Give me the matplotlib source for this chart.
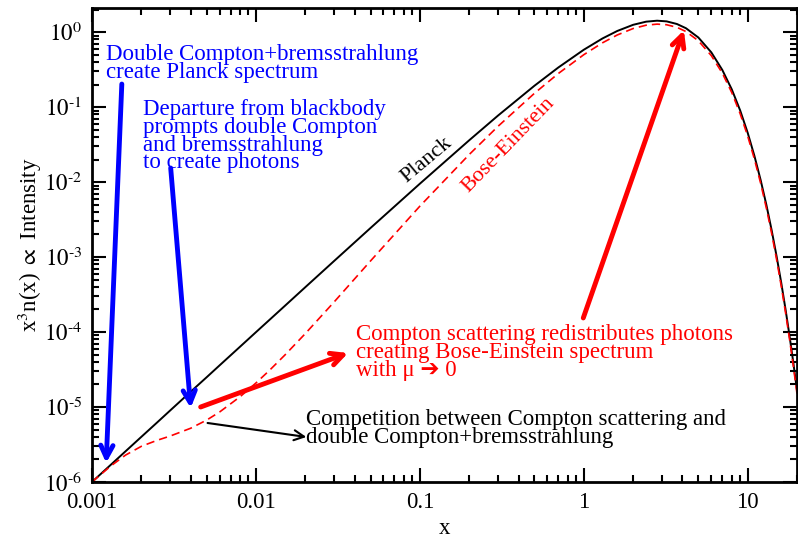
"""
Planck vs Bose-Einstein spectrum (log-log)
"""
import math
import matplotlib
matplotlib.use('Agg')
import matplotlib.pyplot as plt
from matplotlib.ticker import LogLocator, FuncFormatter, NullFormatter

plt.rcParams['font.family'] = ['Liberation Serif', 'DejaVu Serif']
plt.rcParams['mathtext.fontset'] = 'stix'

# x values (frequency x = h nu / kT)
x_vals = [0.001, 0.0013, 0.0016, 0.002, 0.0025, 0.003, 0.004, 0.005, 0.006, 0.008,
          0.01, 0.012, 0.015, 0.02, 0.03, 0.05, 0.1, 0.2, 0.3, 0.5, 0.7, 1.0,
          1.3, 1.6, 2.0, 2.4, 2.8, 3.2, 3.7, 4.2, 5, 6, 7, 8, 9, 10,
          11, 12, 13, 14, 15, 16, 17, 18, 19, 20]

# Planck curve
planck = [1.0e-6, 1.69e-6, 2.56e-6, 4.0e-6, 6.24e-6, 9.0e-6, 1.6e-5, 2.49e-5, 3.59e-5, 6.37e-5,
          9.95e-5, 1.43e-4, 2.23e-4, 3.96e-4, 8.87e-4, 2.44e-3, 9.51e-3, 0.0361, 0.0772, 0.1927,
          0.338, 0.582, 0.823, 1.036, 1.252, 1.379, 1.421, 1.392, 1.284, 1.128,
          0.848, 0.537, 0.313, 0.172, 0.090, 0.0454,
          0.0222, 0.0106, 0.00497, 0.00228, 0.00103, 4.61e-4, 2.03e-4, 8.88e-5, 3.84e-5, 1.65e-5]

# Bose-Einstein curve (dashed)
bose = [1.0e-6, 1.63e-6, 2.28e-6, 2.99e-6, 3.60e-6, 4.10e-6, 5.21e-6, 6.68e-6, 8.57e-6, 1.37e-5,
        2.09e-5, 3.03e-5, 4.92e-5, 9.52e-5, 2.52e-4, 8.87e-4, 4.77e-3, 0.0233, 0.0555, 0.1527,
        0.281, 0.500, 0.720, 0.916, 1.117, 1.237, 1.279, 1.255, 1.159, 1.019,
        0.767, 0.486, 0.284, 0.156, 0.0814, 0.0411,
        0.0201, 0.00961, 0.00449, 0.00207, 9.34e-4, 4.17e-4, 1.84e-4, 8.03e-5, 3.48e-5, 1.49e-5]

x_ticks = [0.001, 0.01, 0.1, 1, 10]
x_tick_labels = ['0.001', '0.01', '0.1', '1', '10']


def ylab(v, pos):
    e = round(math.log10(v))
    if e < 0:
        return r'$10^{\text{-}%d}$' % (-e)
    return r'$10^{%d}$' % e


fig = plt.figure(figsize=(7.98, 5.39), dpi=100)
ax = fig.add_axes([0.1153, 0.1058, 0.8835, 0.8794])

ax.plot(x_vals, planck, color='black', lw=1.4)
ax.plot(x_vals, bose, color='red', lw=1.2, ls=(0, (5, 3)))

ax.set_xscale('log')
ax.set_yscale('log')
ax.set_xlim(0.001, 20)
ax.set_ylim(1e-6, 2.1)

# ticks
ax.set_xticks(x_ticks)
ax.set_xticklabels(x_tick_labels)
ax.xaxis.set_minor_locator(LogLocator(base=10, subs=range(2, 10), numticks=20))
ax.xaxis.set_minor_formatter(NullFormatter())
ax.yaxis.set_major_locator(LogLocator(base=10, numticks=20))
ax.yaxis.set_minor_locator(LogLocator(base=10, subs=range(2, 10), numticks=20))
ax.yaxis.set_major_formatter(FuncFormatter(ylab))
ax.yaxis.set_minor_formatter(NullFormatter())
ax.tick_params(which='both', direction='in', top=True, right=True, width=1.5, labelsize=16.5)
ax.tick_params(which='major', length=10, pad=7)
ax.tick_params(which='minor', length=5)
for s in ax.spines.values():
    s.set_linewidth(2)

ax.set_xlabel('x', fontsize=16.5, labelpad=4)
ax.set_ylabel(r'x$^3$n(x) $\propto$ Intensity', fontsize=16.5, labelpad=0)

# curve labels
ax.text(0.110, 0.0197, 'Planck', rotation=40, fontsize=16, color='black',
        ha='center', va='center')
ax.text(0.347, 0.0311, 'Bose-Einstein', rotation=46, fontsize=16, color='red',
        ha='center', va='center')

fs = 16.5
ls = 0.8

# annotations
ax.text(0.00122, 0.69, 'Double Compton+bremsstrahlung\ncreate Planck spectrum',
        color='blue', fontsize=fs, ha='left', va='top', linespacing=ls)
ax.annotate('', xy=(0.00122, 1.79e-6), xytext=(0.00152, 0.203),
            arrowprops=dict(arrowstyle='->', color='blue', lw=3.5, mutation_scale=22,
                            shrinkA=0, shrinkB=0))

ax.text(0.00204, 0.128, 'Departure from blackbody\nprompts double Compton\nand bremsstrahlung\nto create photons',
        color='blue', fontsize=fs, ha='left', va='top', linespacing=ls)
ax.annotate('', xy=(0.0040, 9.7e-6), xytext=(0.00302, 0.0154),
            arrowprops=dict(arrowstyle='->', color='blue', lw=3.5, mutation_scale=22,
                            shrinkA=0, shrinkB=0))

ax.text(0.0408, 1.28e-4, 'Compton scattering redistributes photons\ncreating Bose-Einstein spectrum\nwith \u03bc \u2794 0',
        color='red', fontsize=fs, ha='left', va='top', linespacing=ls,
        family=['Liberation Serif', 'DejaVu Sans'])
ax.annotate('', xy=(0.0365, 5.25e-5), xytext=(0.0046, 1.0e-5),
            arrowprops=dict(arrowstyle='->', color='red', lw=3.5, mutation_scale=22,
                            shrinkA=0, shrinkB=0))
ax.annotate('', xy=(4.08, 1.06), xytext=(0.993, 1.54e-4),
            arrowprops=dict(arrowstyle='->', color='red', lw=3.5, mutation_scale=22,
                            shrinkA=0, shrinkB=0))

ax.text(0.0203, 9.4e-6, 'Competition between Compton scattering and\ndouble Compton+bremsstrahlung',
        color='black', fontsize=fs, ha='left', va='top', linespacing=ls)
ax.annotate('', xy=(0.0203, 3.98e-6), xytext=(0.00507, 6.12e-6),
            arrowprops=dict(arrowstyle='->', color='black', lw=1.5, mutation_scale=18,
                            shrinkA=0, shrinkB=0))

plt.savefig('out.png', dpi=100)
plt.close()
